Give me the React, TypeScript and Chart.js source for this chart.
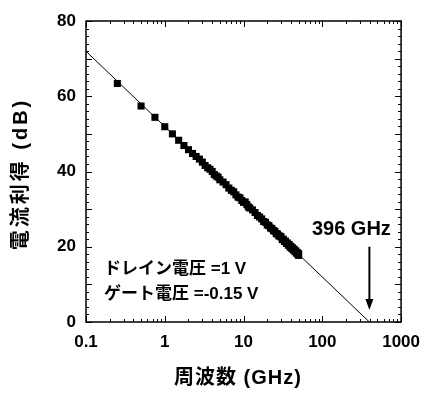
import React, { useEffect, useRef } from "react";
import { Chart, registerables } from "chart.js";

Chart.register(...registerables);

// Measured data (frequency in GHz, current gain in dB)
const freqs = [
  0.25, 0.5, 0.75, 1, 1.25, 1.5, 1.75, 2, 2.25, 2.5, 2.75, 3, 3.25, 3.5, 3.75, 4,
  4.25, 4.5, 4.75, 5, 5.5, 6, 6.5, 7, 7.5, 8, 8.5, 9, 9.5, 10, 10.5, 11, 11.5, 12,
  13, 14, 15, 16, 17, 18, 19, 20, 21, 22, 23, 24, 25, 26, 27, 28, 29, 30, 31, 32,
  33, 34, 35, 36, 37, 38, 39, 40, 41, 42, 43, 44, 45, 46, 47, 48, 49, 50, 50,
];
const gains = [
  63.4, 57.4, 54.4, 51.9, 50.0, 48.3, 46.9, 45.8, 44.8, 44.0, 43.3, 42.5, 41.6, 41.0,
  40.6, 40.0, 39.2, 38.8, 38.5, 37.8, 37.2, 36.5, 35.6, 35.0, 34.6, 33.8, 33.2, 33.0,
  32.3, 31.8, 31.9, 31.2, 30.6, 30.3, 29.8, 29.1, 28.3, 27.9, 27.4, 26.7, 26.5, 25.8,
  25.6, 25.0, 24.8, 24.3, 24.1, 23.5, 23.4, 22.9, 22.8, 22.6, 21.9, 22.0, 21.4, 21.5,
  20.9, 21.0, 20.4, 20.6, 19.9, 20.1, 19.5, 19.7, 19.1, 19.3, 18.7, 18.9, 18.3, 18.5,
  18.0, 18.2, 17.7,
];
// Fitted -20 dB/decade line
const fitFreqs = [0.1, 396];
const fitGains = [71.95, 0];
// Cut-off annotation
const cutoffFreq = 396;
const cutoffLabel = "396 GHz";
const arrowTopGain = 20;
const arrowTipGain = 3.2;
const noteLines = ["ドレイン電圧 =1 V", "ゲート電圧 =-0.15 V"];
// Axes
const xTicks = [0.1, 1, 10, 100, 1000];
const yTicks = [0, 20, 40, 60, 80];
const xTitle = "周波数 (GHz)";
const yTitle = "電流利得 (dB)";

const FONT = "'Liberation Sans', Arial, 'Noto Sans CJK JP', sans-serif";

const decorPlugin = {
  id: "decor",
  afterDraw(chart: any) {
    const { ctx, chartArea } = chart;
    const xs = chart.scales.x;
    const ys = chart.scales.y;
    const { left, right, top, bottom } = chartArea;
    ctx.save();
    ctx.strokeStyle = "#000";
    ctx.fillStyle = "#000";
    // frame
    ctx.lineWidth = 1.5;
    ctx.strokeRect(left, top, right - left, bottom - top);
    // y ticks (inside, both sides)
    ctx.lineWidth = 1;
    for (let v = 0; v <= 80; v += 2) {
      const y = Math.round(ys.getPixelForValue(v)) + 0.5;
      const len = v % 10 === 0 ? 6 : 3;
      ctx.beginPath();
      ctx.moveTo(left, y);
      ctx.lineTo(left + len, y);
      ctx.moveTo(right, y);
      ctx.lineTo(right - len, y);
      ctx.stroke();
    }
    // x ticks (log, inside, both sides)
    for (let d = 0.1; d < 1000; d *= 10) {
      for (let k = 1; k <= 10; k++) {
        const x = Math.round(xs.getPixelForValue(d * k)) + 0.5;
        const len = k === 1 || k === 10 ? 6 : 3;
        ctx.beginPath();
        ctx.moveTo(x, bottom);
        ctx.lineTo(x, bottom - len);
        ctx.moveTo(x, top);
        ctx.lineTo(x, top + len);
        ctx.stroke();
      }
    }
    // arrow
    const ax = xs.getPixelForValue(cutoffFreq);
    const ay1 = ys.getPixelForValue(arrowTopGain);
    const ay2 = ys.getPixelForValue(arrowTipGain);
    ctx.lineWidth = 2;
    ctx.beginPath();
    ctx.moveTo(ax, ay1);
    ctx.lineTo(ax, ay2 - 8);
    ctx.stroke();
    ctx.beginPath();
    ctx.moveTo(ax - 4, ay2 - 11);
    ctx.lineTo(ax + 4, ay2 - 11);
    ctx.lineTo(ax, ay2);
    ctx.closePath();
    ctx.fill();
    // cutoff label
    ctx.font = `bold 20px ${FONT}`;
    ctx.textAlign = "center";
    ctx.textBaseline = "alphabetic";
    ctx.fillText(cutoffLabel, ax - 18, ay1 - 12);
    // notes
    ctx.font = `bold 17px ${FONT}`;
    ctx.textAlign = "left";
    ctx.textBaseline = "middle";
    noteLines.forEach((t, i) => ctx.fillText(t, left + 18, 269 + i * 25));
    // axis titles
    ctx.textAlign = "center";
    ctx.font = `bold 20px ${FONT}`;
    (ctx as any).letterSpacing = "1px";
    ctx.fillText(xTitle, 238, 378);
    ctx.save();
    (ctx as any).letterSpacing = "3px";
    ctx.translate(21, 174);
    ctx.rotate(-Math.PI / 2);
    ctx.fillText(yTitle, 0, 0);
    ctx.restore();
    (ctx as any).letterSpacing = "0px";
    ctx.restore();
  },
};

export default function App() {
  const ref = useRef<HTMLCanvasElement>(null);
  useEffect(() => {
    const chart = new Chart(ref.current!, {
      type: "scatter",
      data: {
        datasets: [
          {
            label: "fit",
            data: fitFreqs.map((f, i) => ({ x: f, y: fitGains[i] })),
            showLine: true,
            borderColor: "#000",
            borderWidth: 1,
            pointRadius: 0,
            fill: false,
          },
          {
            label: "gain",
            data: freqs.map((f, i) => ({ x: f, y: gains[i] })),
            pointStyle: "rect",
            pointRadius: 5,
            backgroundColor: "#000",
            borderColor: "#000",
            borderWidth: 0,
            showLine: false,
          },
        ],
      },
      options: {
        animation: false,
        responsive: false,
        maintainAspectRatio: false,
        layout: { padding: { left: 0, right: 28, top: 21, bottom: 0 } },
        plugins: { legend: { display: false }, tooltip: { enabled: false } },
        scales: {
          x: {
            type: "logarithmic",
            min: 0.1,
            max: 1000,
            afterBuildTicks: (s: any) => {
              s.ticks = xTicks.map((v) => ({ value: v }));
            },
            afterFit: (s: any) => {
              s.height = 77;
            },
            ticks: {
              callback: (v: any) => String(v),
              color: "#000",
              font: { family: FONT, size: 17, weight: "bold" },
              padding: 10,
              maxRotation: 0,
            },
            grid: { display: false, drawTicks: false },
            border: { display: false },
          },
          y: {
            min: 0,
            max: 80,
            afterBuildTicks: (s: any) => {
              s.ticks = yTicks.map((v) => ({ value: v }));
            },
            afterFit: (s: any) => {
              s.width = 86;
            },
            ticks: {
              color: "#000",
              font: { family: FONT, size: 17, weight: "bold" },
              padding: 10,
            },
            grid: { display: false, drawTicks: false },
            border: { display: false },
          },
        },
      },
      plugins: [decorPlugin],
    } as any);
    return () => chart.destroy();
  }, []);
  return (
    <div style={{ position: "absolute", left: 0, top: 0, width: 430, height: 399, background: "#fff" }}>
      <canvas ref={ref} width={430} height={399} />
    </div>
  );
}
